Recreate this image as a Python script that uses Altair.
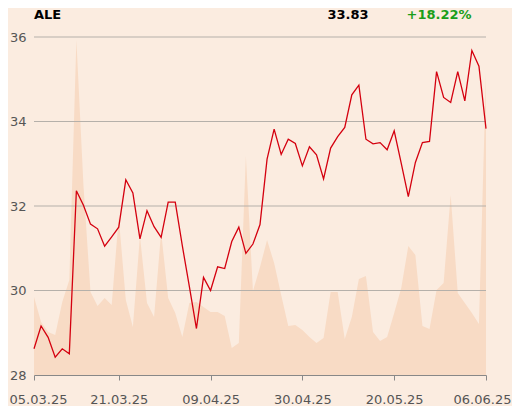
import altair as alt
import pandas as pd

# ---------------- data ----------------
ticker = "ALE"
last_price_text = "33.83"
change_text = "+18.22%"

holidays = ["2025-04-18", "2025-04-21", "2025-05-01"]
trading_days = [d for d in pd.bdate_range("2025-03-05", "2025-06-06")
                if d.strftime("%Y-%m-%d") not in holidays]
date_labels = [d.strftime("%d.%m.%y") for d in trading_days]

prices = [
    28.62, 29.16, 28.89, 28.42, 28.62, 28.50, 32.36, 32.02, 31.57, 31.46,
    31.05, 31.27, 31.50, 32.62, 32.31, 31.22, 31.89, 31.51, 31.26, 32.09,
    32.09, 31.06, 30.09, 29.10, 30.31, 30.00, 30.56, 30.52, 31.16, 31.50,
    30.88, 31.10, 31.56, 33.11, 33.82, 33.22, 33.58, 33.48, 32.95, 33.40,
    33.21, 32.64, 33.37, 33.64, 33.86, 34.63, 34.86, 33.58, 33.47, 33.50,
    33.33, 33.78, 33.01, 32.22, 33.03, 33.50, 33.53, 35.18, 34.57, 34.45,
    35.18, 34.49, 35.68, 35.31, 33.83,
]

# traded volume (relative units)
volumes = [
    78, 53, 43, 40, 73, 95, 335, 190, 83, 69,
    77, 70, 158, 75, 48, 139, 72, 58, 143, 77,
    62, 38, 72, 73, 68, 63, 63, 59, 27, 32,
    219, 84, 108, 135, 112, 80, 49, 50, 45, 38,
    32, 37, 83, 83, 36, 58, 96, 99, 43, 34,
    38, 62, 87, 129, 120, 49, 46, 85, 92, 180,
    82, 72, 62, 51, 302,
]

x_tick_index = [0, 12, 25, 38, 51, 64]
y_ticks = [28, 30, 32, 34, 36]
grid_levels = [30, 32, 34, 36]

df = pd.DataFrame({
    "i": list(range(len(prices))),
    "price": prices,
    "vol": volumes,
    "date": date_labels,
})
grid_df = pd.DataFrame({"level": grid_levels})
hdr_df = pd.DataFrame({"k": [0]})

# ---------------- styling ----------------
BG = "#fbece0"
AREA = "#f8dbc5"
LINE = "#d4000f"
GRID = "#b5b0aa"
TXT = "#555555"
FONT = "DejaVu Sans"

label_expr = "''"
for idx in reversed(x_tick_index):
    label_expr = f"datum.value == {idx} ? '{date_labels[idx]}' : ({label_expr})"

first_i, last_i = x_tick_index[0], x_tick_index[-1]

x_enc = alt.X(
    "i:Q",
    scale=alt.Scale(domain=[0, len(prices) - 1], nice=False, zero=False),
    axis=alt.Axis(
        values=x_tick_index,
        labelExpr=label_expr,
        title=None,
        grid=False,
        domainColor="#888888",
        tickColor="#888888",
        tickSize=5,
        labelPadding=13,
        labelFontSize=13,
        labelFont=FONT,
        labelColor=TXT,
        labelOverlap=False,
        labelFlush=False,
        labelBound=False,
        labelOffset={"expr": f"datum.value == {first_i} ? 4 : (datum.value == {last_i} ? -4 : 0)"},
    ),
)

area = alt.Chart(df).mark_area(color=AREA, opacity=1, interpolate="linear").encode(
    x=x_enc,
    y=alt.Y("vol:Q", scale=alt.Scale(domain=[0, 338], nice=False), axis=None),
)

grid = alt.Chart(grid_df).mark_rule(color=GRID, strokeWidth=1).encode(
    y=alt.Y("level:Q", scale=alt.Scale(domain=[28, 36], nice=False, zero=False), axis=None),
)

line = alt.Chart(df).mark_line(color=LINE, strokeWidth=1.3).encode(
    x=x_enc,
    y=alt.Y(
        "price:Q",
        scale=alt.Scale(domain=[28, 36], nice=False, zero=False),
        axis=alt.Axis(
            values=y_ticks,
            title=None,
            grid=False,
            domain=False,
            ticks=False,
            tickSize=0,
            labelPadding=8,
            labelFontSize=13,
            labelFont=FONT,
            labelColor=TXT,
        ),
    ),
)

hdr_base = alt.Chart(hdr_df).mark_text(
    align="left", baseline="top", fontSize=13, fontWeight="bold", font=FONT
)
t_name = hdr_base.encode(x=alt.value(0), y=alt.value(-28), text=alt.value(ticker), color=alt.value("#000000"))
t_price = hdr_base.encode(x=alt.value(293.5), y=alt.value(-28), text=alt.value(last_price_text), color=alt.value("#000000"))
t_chg = hdr_base.encode(x=alt.value(372.5), y=alt.value(-28), text=alt.value(change_text), color=alt.value("#1a9e1a"))

chart = (
    alt.layer(area, grid, line, t_name, t_price, t_chg)
    .resolve_scale(y="independent")
    .properties(
        width=452,
        height=338,
        background=BG,
        padding={"left": 26, "top": 29, "right": 26, "bottom": 31},
        autosize=alt.AutoSizeParams(type="none"),
    )
    .configure_view(stroke=None)
)

chart.save("out.html", embed_options={"renderer": "svg", "actions": False})
